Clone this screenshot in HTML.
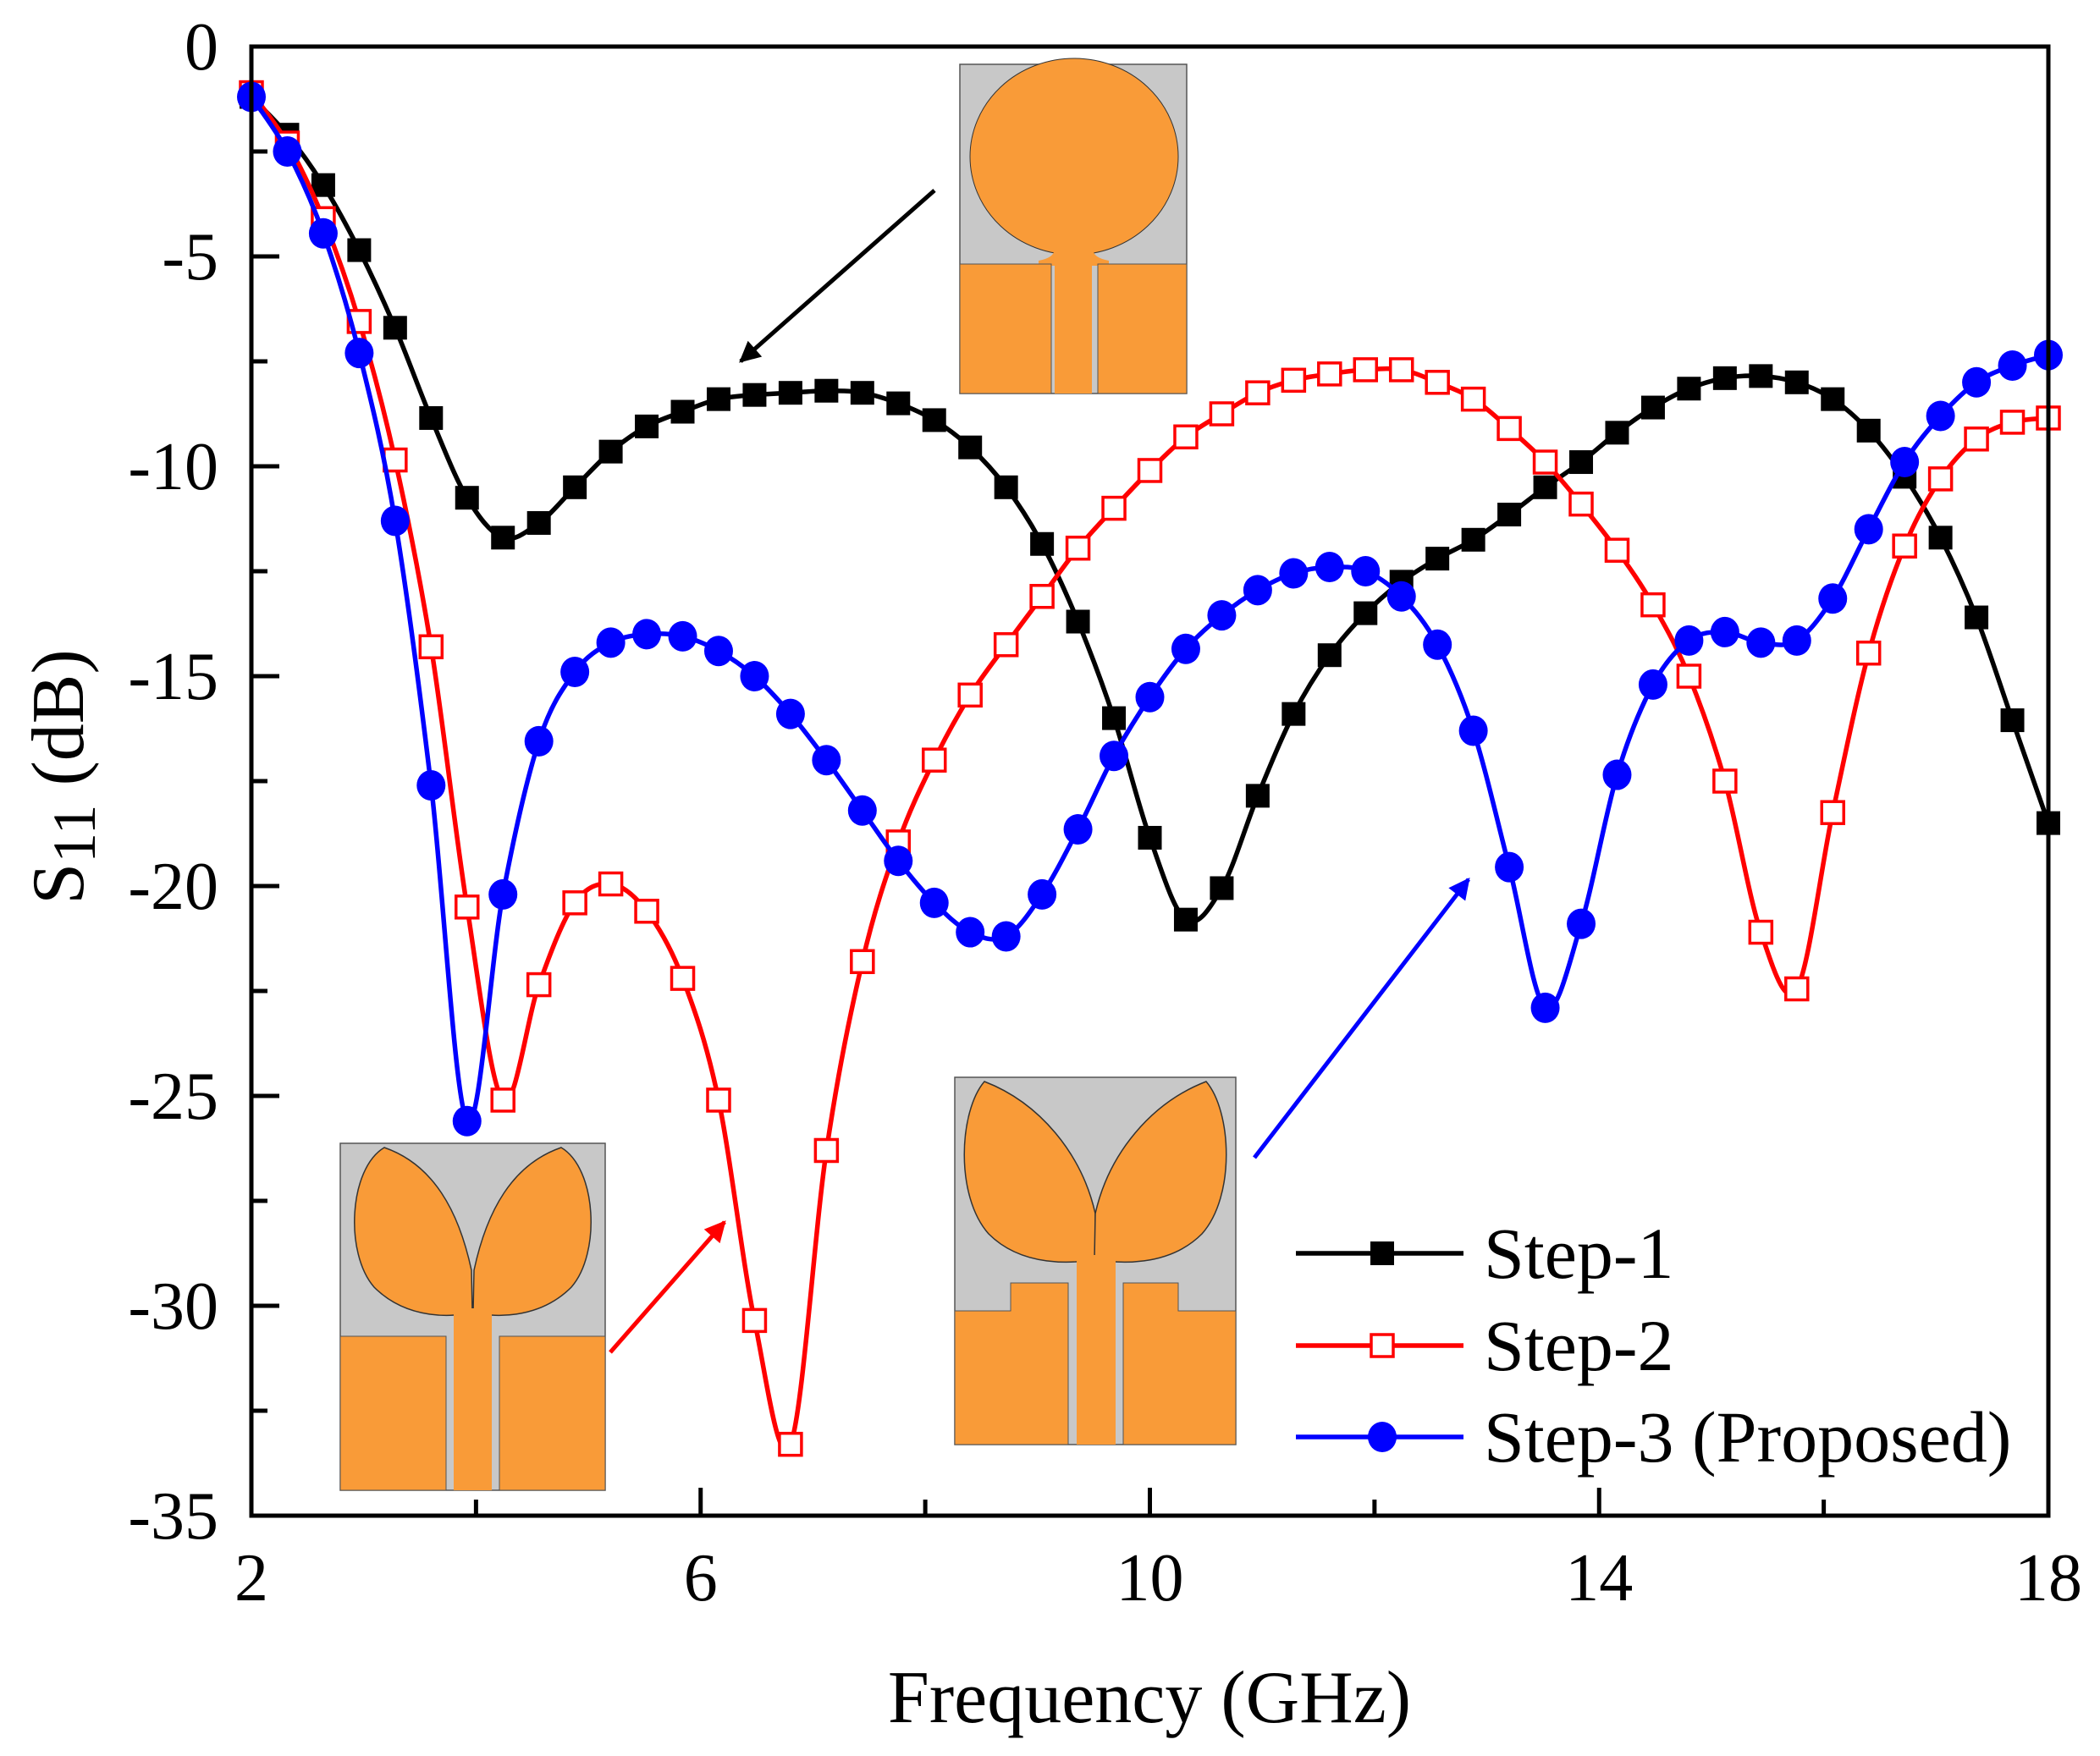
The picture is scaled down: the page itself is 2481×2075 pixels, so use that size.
<!DOCTYPE html>
<html><head><meta charset="utf-8"><style>
html,body{margin:0;padding:0;background:#fff;}
svg{display:block;}
text{font-family:"Liberation Serif","Times New Roman",serif;}
</style></head><body>
<svg id="chart" width="2481" height="2075" viewBox="0 0 2481 2075" xmlns="http://www.w3.org/2000/svg" font-family="Liberation Serif, serif">
<defs>
<marker id="ahK" viewBox="0 0 10 10" refX="9" refY="5" markerWidth="7" markerHeight="5" markerUnits="strokeWidth" orient="auto"><path d="M0,0 L10,5 L0,10 Z" fill="#000"/></marker>
<marker id="ahR" viewBox="0 0 10 10" refX="9" refY="5" markerWidth="7" markerHeight="5" markerUnits="strokeWidth" orient="auto"><path d="M0,0 L10,5 L0,10 Z" fill="#f00"/></marker>
<marker id="ahB" viewBox="0 0 10 10" refX="9" refY="5" markerWidth="7" markerHeight="5" markerUnits="strokeWidth" orient="auto"><path d="M0,0 L10,5 L0,10 Z" fill="#00f"/></marker>
</defs>
<g id="grid-ticks"></g>
<g id="series"></g>

<g transform="translate(1134,76)">
<rect x="0" y="0" width="268" height="389" fill="#c8c8c8" stroke="#555" stroke-width="1.5"/>
<ellipse cx="135" cy="109" rx="123" ry="116" fill="#f99b38" stroke="#333" stroke-width="1"/>
<path d="M111,215 Q115,228 93,232 L93,238 L112,238 L112,389 L156,389 L156,238 L176,238 L176,232 Q154,228 158,215 Z" fill="#f99b38"/>
<rect x="0" y="236" width="108" height="153" fill="#f99b38" stroke="#555" stroke-width="1"/>
<rect x="163" y="236" width="105" height="153" fill="#f99b38" stroke="#555" stroke-width="1"/>
</g>

<g transform="translate(402,1351)">
<rect x="0" y="0" width="313" height="410" fill="#c8c8c8" stroke="#555" stroke-width="1.5"/>
<path d="M155,150 C140,80 110,25 52,5 C10,30 5,130 40,170 C80,210 135,205 156,200 Z" fill="#f99b38" stroke="#333" stroke-width="1.5"/>
<path d="M158,150 C173,80 203,25 261,5 C303,30 308,130 273,170 C233,210 178,205 157,200 Z" fill="#f99b38" stroke="#333" stroke-width="1.5"/>
<rect x="134" y="195" width="45" height="215" fill="#f99b38"/>
<rect x="0" y="228" width="125" height="182" fill="#f99b38" stroke="#555" stroke-width="1"/>
<rect x="188" y="228" width="125" height="182" fill="#f99b38" stroke="#555" stroke-width="1"/>
</g>

<g transform="translate(1128,1273)">
<rect x="0" y="0" width="332" height="434" fill="#c8c8c8" stroke="#555" stroke-width="1.5"/>
<path d="M166,161 C150,90 100,30 35,5 C5,40 0,140 40,185 C80,225 140,220 167,215 Z" fill="#f99b38" stroke="#333" stroke-width="1.5"/>
<path d="M166,161 C182,90 232,30 297,5 C327,40 332,140 292,185 C252,225 192,220 165,215 Z" fill="#f99b38" stroke="#333" stroke-width="1.5"/>
<rect x="144" y="210" width="46" height="224" fill="#f99b38"/>
<path d="M0,276 L66,276 L66,243 L134,243 L134,434 L0,434 Z" fill="#f99b38" stroke="#555" stroke-width="1"/>
<path d="M199,243 L264,243 L264,276 L332,276 L332,434 L199,434 Z" fill="#f99b38" stroke="#555" stroke-width="1"/>
</g>

<line x1="1104" y1="225" x2="875" y2="427" stroke="#000" stroke-width="5" marker-end="url(#ahK)"/>
<line x1="721" y1="1598" x2="856" y2="1444" stroke="#f00" stroke-width="5" marker-end="url(#ahR)"/>
<line x1="1482" y1="1368" x2="1735" y2="1039" stroke="#00f" stroke-width="5" marker-end="url(#ahB)"/>

<rect x="297" y="55" width="2123" height="1736" fill="none" stroke="#000" stroke-width="5"/>

<text x="1358" y="2035" font-size="88" text-anchor="middle">Frequency (GHz)</text>
<text transform="translate(98,918) rotate(-90)" font-size="88" text-anchor="middle">S<tspan font-size="72" dy="14">11</tspan><tspan dy="-14"> (dB)</tspan></text>

<g>
<g>
<line x1="1531" y1="1481" x2="1729" y2="1481" stroke="#000" stroke-width="5.5"/>
<rect x="1619" y="1467" width="28" height="28" fill="#000"/>
<text x="1753" y="1510" font-size="86">Step-1</text></g>
<g>
<line x1="1531" y1="1590" x2="1729" y2="1590" stroke="#f00" stroke-width="5.5"/>
<rect x="1620" y="1577" width="26" height="26" fill="#fff" stroke="#f00" stroke-width="3.5"/>
<text x="1753" y="1619" font-size="86">Step-2</text></g>
<g>
<line x1="1531" y1="1698" x2="1729" y2="1698" stroke="#00f" stroke-width="5.5"/>
<ellipse cx="1633" cy="1698" rx="17" ry="18" fill="#00f"/>
<text x="1753" y="1727" font-size="86">Step-3 (Proposed)</text></g>
</g>
</svg>
<script>
const freqStart = 2, freqStep = 0.32;
const step1 = [-1.2,-2.1,-3.3,-4.85,-6.7,-8.85,-10.75,-11.7,-11.35,-10.5,-9.65,-9.05,-8.7,-8.4,-8.3,-8.25,-8.2,-8.25,-8.5,-8.9,-9.55,-10.5,-11.85,-13.7,-16.0,-18.85,-20.8,-20.05,-17.85,-15.9,-14.5,-13.5,-12.75,-12.2,-11.75,-11.15,-10.5,-9.9,-9.2,-8.6,-8.15,-7.9,-7.85,-8.0,-8.4,-9.15,-10.25,-11.7,-13.6,-16.05,-18.5];
const step2 = [-1.1,-2.3,-4.1,-6.55,-9.85,-14.3,-20.5,-25.1,-22.35,-20.4,-19.95,-20.6,-22.2,-25.1,-30.35,-33.3,-26.3,-21.8,-18.95,-17.0,-15.45,-14.25,-13.1,-11.95,-11.0,-10.1,-9.3,-8.75,-8.25,-7.95,-7.8,-7.7,-7.7,-8.0,-8.4,-9.1,-9.9,-10.9,-12.0,-13.3,-15.0,-17.5,-21.1,-22.45,-18.25,-14.45,-11.9,-10.3,-9.35,-8.95,-8.85];
const step3 = [-1.2,-2.5,-4.45,-7.3,-11.3,-17.6,-25.6,-20.2,-16.55,-14.9,-14.2,-14.0,-14.05,-14.4,-15.0,-15.9,-17.0,-18.2,-19.4,-20.4,-21.1,-21.2,-20.2,-18.65,-16.9,-15.5,-14.35,-13.55,-12.95,-12.55,-12.4,-12.5,-13.1,-14.25,-16.3,-19.55,-22.9,-20.9,-17.35,-15.2,-14.15,-13.95,-14.2,-14.15,-13.15,-11.5,-9.9,-8.8,-8.0,-7.6,-7.35];
const xTicks = [2,6,10,14,18];
const xMinor = [4,8,12,16];
const yTicks = [0,-5,-10,-15,-20,-25,-30,-35];
const yMinor = [-2.5,-7.5,-12.5,-17.5,-22.5,-27.5,-32.5];

const NS = "http://www.w3.org/2000/svg";
const X0=297,X1=2420,Y0=55,Y1=1791;
function sx(f){return X0+(f-2)/16*(X1-X0);}
function sy(v){return Y0+(0-v)/35*(Y1-Y0);}
function mk(tag,attrs,parent){const e=document.createElementNS(NS,tag);for(const k in attrs)e.setAttribute(k,attrs[k]);parent.appendChild(e);return e;}

const tg=document.getElementById('grid-ticks');
xTicks.forEach(t=>{
  const l=mk('line',{x1:sx(t),x2:sx(t),y1:Y1,y2:Y1-33,stroke:'#000','stroke-width':5},tg);
  
  
  const tx=mk('text',{x:sx(t),y:1891,'font-size':80,'text-anchor':'middle'},tg);
  tx.textContent=t;
  
  
});
xMinor.forEach(t=>{
  const l=mk('line',{x1:sx(t),x2:sx(t),y1:Y1,y2:Y1-19,stroke:'#000','stroke-width':5},tg);
  
  
});
yTicks.forEach(t=>{
  const l=mk('line',{x1:X0,x2:X0+33,y1:sy(t),y2:sy(t),stroke:'#000','stroke-width':5},tg);
  
  
  const tx=mk('text',{x:258,y:sy(t)+27,'font-size':80,'text-anchor':'end'},tg);
  tx.textContent=t;
  
  
});
yMinor.forEach(t=>{
  const l=mk('line',{x1:X0,x2:X0+19,y1:sy(t),y2:sy(t),stroke:'#000','stroke-width':5},tg);
  
  
});

function spline(pts){
  let d='M'+pts[0][0]+','+pts[0][1];
  for(let i=0;i<pts.length-1;i++){
    const p0=pts[Math.max(i-1,0)],p1=pts[i],p2=pts[i+1],p3=pts[Math.min(i+2,pts.length-1)];
    const c1x=p1[0]+(p2[0]-p0[0])/6,c1y=p1[1]+(p2[1]-p0[1])/6;
    const c2x=p2[0]-(p3[0]-p1[0])/6,c2y=p2[1]-(p3[1]-p1[1])/6;
    d+=' C'+c1x.toFixed(1)+','+c1y.toFixed(1)+' '+c2x.toFixed(1)+','+c2y.toFixed(1)+' '+p2[0].toFixed(1)+','+p2[1].toFixed(1);
  }
  return d;
}
const sg=document.getElementById('series');
function drawSeries(vals,color,kind,name){
  const g=mk('g',{},sg);
  
  
  const pts=vals.map((v,i)=>[sx(freqStart+i*freqStep),sy(v)]);
  const p=mk('path',{d:spline(pts),fill:'none',stroke:color,'stroke-width':5.5},g);
  
  
  pts.forEach(q=>{
    let m;
    if(kind==='fsq') m=mk('rect',{x:q[0]-14,y:q[1]-14,width:28,height:28,fill:color},g);
    else if(kind==='osq') m=mk('rect',{x:q[0]-13,y:q[1]-13,width:26,height:26,fill:'#fff',stroke:color,'stroke-width':3.5},g);
    else m=mk('ellipse',{cx:q[0],cy:q[1],rx:17,ry:18,fill:color},g);
    
    
  });
}
drawSeries(step1,'#000','fsq','series-step-1');
drawSeries(step2,'#f00','osq','series-step-2');
drawSeries(step3,'#00f','circ','series-step-3');
</script>
</body></html>
